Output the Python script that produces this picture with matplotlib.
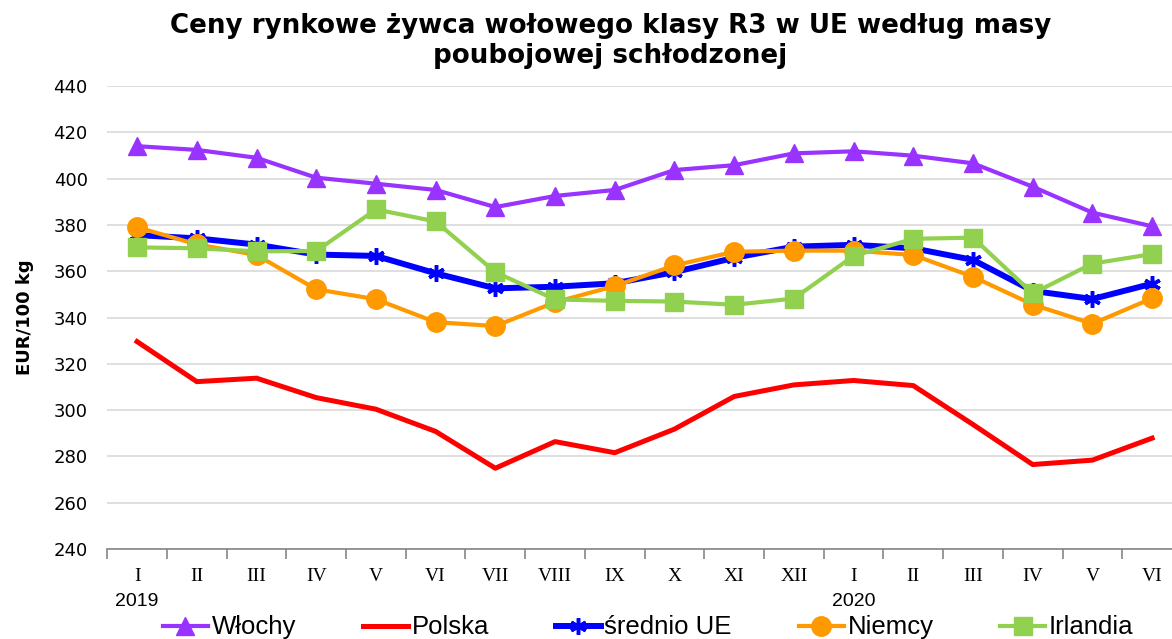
import numpy as np
import matplotlib
matplotlib.use("Agg")
import matplotlib.pyplot as plt
from matplotlib import transforms

# miesiace
months = ["I", "II", "III", "IV", "V", "VI", "VII", "VIII", "IX", "X", "XI", "XII",
          "I", "II", "III", "IV", "V", "VI"]
years = {0: "2019", 12: "2020"}

# ceny EUR/100 kg
wlochy = [414.0, 412.4, 409.0, 400.4, 397.8, 395.1, 387.7, 392.5, 395.1, 403.7,
          405.8, 410.9, 411.8, 409.9, 406.6, 396.5, 385.3, 379.4]
polska = [329.6, 312.3, 313.8, 305.4, 300.4, 290.8, 274.9, 286.4, 281.6, 291.8,
          305.9, 310.9, 312.8, 310.6, 293.8, 276.5, 278.4, 287.9]
srednio_ue = [375.6, 374.2, 371.5, 367.2, 366.6, 359.1, 352.6, 353.3, 354.8, 359.6,
              365.8, 370.6, 371.4, 369.9, 364.9, 351.5, 348.0, 354.6]
niemcy = [379.0, 371.6, 367.0, 352.2, 347.9, 338.0, 336.3, 346.6, 353.6, 362.5,
          368.4, 368.9, 368.9, 367.0, 357.6, 345.6, 337.3, 348.3]
irlandia = [370.3, 369.9, 368.6, 368.7, 386.7, 381.5, 359.6, 347.8, 347.2, 346.9,
            345.5, 348.2, 366.6, 374.0, 374.5, 350.4, 363.3, 367.4]

x = np.arange(len(months))

fig = plt.figure(figsize=(11.72, 6.39), dpi=100)
ax = fig.add_axes([0.0915, 0.1408, 0.917, 0.7246])

ax.plot(x, wlochy, color="#9933FF", lw=3.0, marker="^", ms=13, label="Włochy")
ax.plot(x, polska, color="#FF0000", lw=3.6, label="Polska")
ax.plot(x, srednio_ue, color="#0000FF", lw=4.3, marker=(6, 2, 0), ms=12,
        mew=2.5, label="średnio UE")
ax.plot(x, niemcy, color="#FF9900", lw=3.0, marker="o", ms=14, label="Niemcy")
ax.plot(x, irlandia, color="#92D050", lw=3.0, marker="s", ms=13, label="Irlandia")

ax.set_xlim(-0.5, len(months) - 0.5)
ax.set_ylim(240, 440)
ax.set_yticks(np.arange(240, 441, 20))
ax.grid(axis="y", color="#D9D9D9", lw=1.2)
ax.set_axisbelow(True)
for s in ["left", "right", "top"]:
    ax.spines[s].set_visible(False)
ax.spines["bottom"].set_color("#868686")
ax.spines["bottom"].set_linewidth(1.2)

ax.tick_params(axis="y", length=0, labelsize=13, pad=14)
ax.set_xticks(np.arange(-0.5, len(months), 1.0))
ax.set_xticklabels([])
ax.tick_params(axis="x", which="major", length=7, color="#868686", width=1.2)
ax.set_xticks(x, minor=True)
ax.set_xticklabels(months, minor=True, fontsize=14, family="Liberation Serif")
ax.tick_params(axis="x", which="minor", length=0, pad=14)

trans = transforms.blended_transform_factory(ax.transData, fig.transFigure)
for i, yr in years.items():
    ax.text(i, 0.058, yr, transform=trans, ha="center", va="center",
            fontsize=14, family="Liberation Sans")

ax.set_ylabel("EUR/100 kg", fontsize=13, fontweight="bold", labelpad=14)

fig.text(0.521, 0.936, "Ceny rynkowe żywca wołowego klasy R3 w UE według masy\npoubojowej schłodzonej",
         ha="center", va="center", fontsize=18.8, fontweight="bold", linespacing=1.2)

leg = fig.legend(loc="center", bbox_to_anchor=(0.553, 0.018), ncol=5, frameon=False,
                 columnspacing=2.6, handlelength=1.75, handletextpad=0.15,
                 prop={"family": "Liberation Sans", "size": 18.5})

fig.savefig("out.png", dpi=100)
